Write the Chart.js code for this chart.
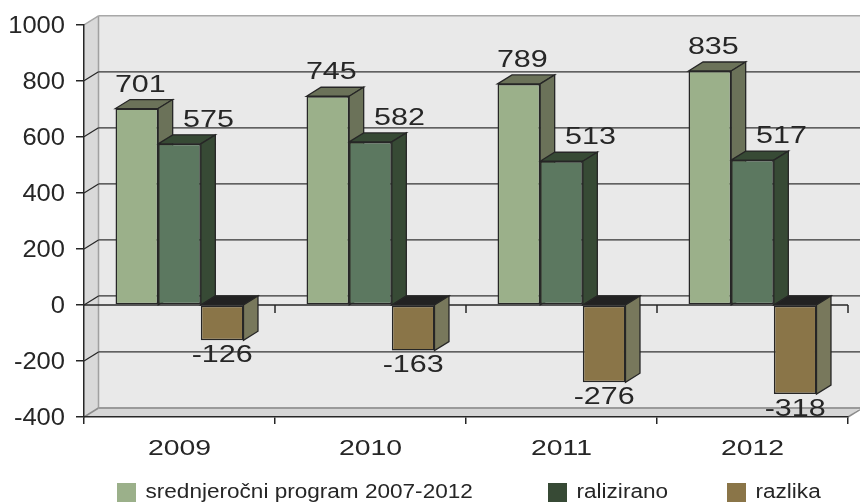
<!DOCTYPE html>
<html>
<head>
<meta charset="utf-8">
<style>
  html, body { margin: 0; padding: 0; background: #fff; }
  canvas { display: block; }
</style>
<script src="https://cdn.jsdelivr.net/npm/chart.js@4"></script>
</head>
<body>
<canvas id="chart" width="860" height="503"></canvas>
<script>
// data
const categories = ["2009", "2010", "2011", "2012"];
const srednjorocni = [701, 745, 789, 835];
const realizirano = [575, 582, 513, 517];
const razlika = [-126, -163, -276, -318];
const yTicks = [-400, -200, 0, 200, 400, 600, 800, 1000];
const seriesNames = ["srednjeročni program 2007-2012", "ralizirano", "razlika"];

// look of the fake 3D
const DX = 14.5, DY = 9;
const INK = "#262626";
const FONT = "Liberation Sans";
const fronts = ["#9bb08a", "#5c7860", "#8a7548"];
const sides = ["#6b7259", "#374a35", "#78785c"];
const legendColors = ["#9bb08a", "#374a35", "#8a7548"];
const legendX = [117, 548, 727];
const labelShift = [3.5, 29, 0];

const canvas = document.getElementById("chart");
const ctx = canvas.getContext("2d");

// the reference type is wider than any installed font, so stretch by font size
const stretch = { 20: 1.128, 22: 1.29, 23: 1.11, 24: 1.27 };
const nudgeY = { 23: 2 };
const plainFillText = ctx.fillText.bind(ctx);
ctx.fillText = function (text, x, y) {
  const size = parseInt(ctx.font.match(/(\d+)px/)[1]);
  ctx.save();
  ctx.translate(x, y + (nudgeY[size] || 0));
  ctx.scale(stretch[size] || 1, 1);
  plainFillText(text, 0, 0);
  ctx.restore();
};

function poly(c, pts, fill, stroke, width) {
  c.beginPath();
  pts.forEach((p, i) => (i ? c.lineTo(p[0], p[1]) : c.moveTo(p[0], p[1])));
  c.closePath();
  if (fill) { c.fillStyle = fill; c.fill(); }
  if (stroke) { c.strokeStyle = stroke; c.lineWidth = width; c.stroke(); }
}

function line(c, x1, y1, x2, y2, color, width) {
  c.beginPath();
  c.moveTo(x1, y1);
  c.lineTo(x2, y2);
  c.strokeStyle = color;
  c.lineWidth = width;
  c.stroke();
}

// walls and floor behind the plot
const wallsPlugin = {
  id: "walls",
  beforeDraw(chart) {
    const c = chart.ctx, a = chart.chartArea, y = chart.scales.y;
    const W = chart.width;
    const top = y.getPixelForValue(1000), bottom = y.getPixelForValue(-400);
    c.save();
    poly(c, [[a.left + DX, top - DY], [W, top - DY], [W, bottom - DY], [a.left + DX, bottom - DY]], "#e9e9e9");
    poly(c, [[a.left, top], [a.left + DX, top - DY], [a.left + DX, bottom - DY], [a.left, bottom]], "#d9d9d9");
    poly(c, [[a.left, bottom], [a.left + DX, bottom - DY], [W, bottom - DY], [W, bottom - DY], [a.right, bottom]], "#d6d6d6");
    line(c, a.left + DX, top - DY, W, top - DY, "#a8a8a8", 1.5);
    line(c, a.left + DX, top - DY, a.left + DX, bottom - DY, "#a0a0a0", 1.5);
    line(c, a.left, top, a.left + DX, top - DY, "#a8a8a8", 1.5);
    line(c, a.left, bottom, a.left + DX, bottom - DY, "#8c8c8c", 1.5);
    line(c, a.left + DX, bottom - DY, W, bottom - DY, "#9a9a9a", 2);
    line(c, a.right, bottom, W, bottom - (W - a.right) * DY / DX, "#8c8c8c", 1.5);
    yTicks.forEach(v => {
      if (v === 1000 || v === -400) return;
      const py = y.getPixelForValue(v);
      line(c, a.left, py, a.left + DX, py - DY, INK, 1.2);
      line(c, a.left + DX, py - DY, W, py - DY, "#333", 1.2);
    });
    c.restore();
  }
};

// zero line plus the top and side faces; the library paints the front faces over them
const boxesPlugin = {
  id: "boxes",
  beforeDatasetsDraw(chart) {
    const c = chart.ctx, a = chart.chartArea;
    const zero = chart.scales.y.getPixelForValue(0);
    c.save();
    line(c, a.left, zero, a.right, zero, INK, 1.5);
    categories.forEach((_, i) => {
      const tx = a.left + (i + 1) * (a.right - a.left) / categories.length;
      line(c, tx, zero, tx, zero + 8, INK, 1.5);
    });
    categories.forEach((_, i) => {
      chart.data.datasets.forEach((ds, d) => {
        const bar = chart.getDatasetMeta(d).data[i];
        const left = bar.x - bar.width / 2, right = bar.x + bar.width / 2;
        const up = Math.min(bar.y, zero), down = Math.max(bar.y, zero);
        const topFill = ds.data[i] < 0 ? "#222" : sides[d];
        poly(c, [[left, up], [left + DX, up - DY], [right + DX, up - DY], [right, up]], topFill, INK, 1.3);
        poly(c, [[right, up], [right + DX, up - DY], [right + DX, down - DY], [right, down]], sides[d], INK, 1.3);
      });
    });
    c.restore();
  }
};

// value labels and legend
const textPlugin = {
  id: "texts",
  afterDatasetsDraw(chart) {
    const c = chart.ctx;
    c.save();
    c.fillStyle = INK;
    c.font = "24px '" + FONT + "'";
    c.textAlign = "center";
    c.textBaseline = "middle";
    chart.data.datasets.forEach((ds, d) => {
      chart.getDatasetMeta(d).data.forEach((bar, i) => {
        const below = ds.data[i] < 0;
        c.fillText(String(ds.data[i]), bar.x + labelShift[d], bar.y + (below ? 15 : -23.5));
      });
    });
    c.font = "20px '" + FONT + "'";
    c.textAlign = "left";
    seriesNames.forEach((name, d) => {
      c.fillStyle = legendColors[d];
      c.fillRect(legendX[d], 483, 19, 19);
      c.fillStyle = INK;
      c.fillText(name, legendX[d] + 28.5, 492);
    });
    c.restore();
  }
};

new Chart(ctx, {
  type: "bar",
  data: {
    labels: categories,
    datasets: [srednjorocni, realizirano, razlika].map((values, d) => ({
      label: seriesNames[d],
      data: values,
      backgroundColor: fronts[d],
      borderColor: INK,
      borderWidth: 1.5,
      borderSkipped: false,
      barPercentage: 1,
      categoryPercentage: 0.67
    }))
  },
  options: {
    responsive: false,
    animation: false,
    layout: { padding: { top: 24, right: 12, left: 0, bottom: 0 } },
    plugins: { legend: { display: false }, tooltip: { enabled: false } },
    scales: {
      x: {
        afterFit(scale) { scale.height = 86; },
        grid: { offset: true, drawOnChartArea: false, tickLength: 7, color: INK, lineWidth: 1.5 },
        border: { display: true, color: INK, width: 1.5 },
        ticks: { color: INK, font: { family: FONT, size: 22 }, padding: 12, maxRotation: 0 }
      },
      y: {
        min: -400,
        max: 1000,
        afterFit(scale) { scale.width = 84; },
        afterBuildTicks(scale) { scale.ticks = yTicks.map(v => ({ value: v })); },
        grid: { drawOnChartArea: false, tickLength: 8, color: INK, lineWidth: 1.5 },
        border: { display: true, color: INK, width: 1.5 },
        ticks: { color: INK, font: { family: FONT, size: 23 }, padding: 11, callback: v => String(v) }
      }
    }
  },
  plugins: [wallsPlugin, boxesPlugin, textPlugin]
});
</script>
</body>
</html>
